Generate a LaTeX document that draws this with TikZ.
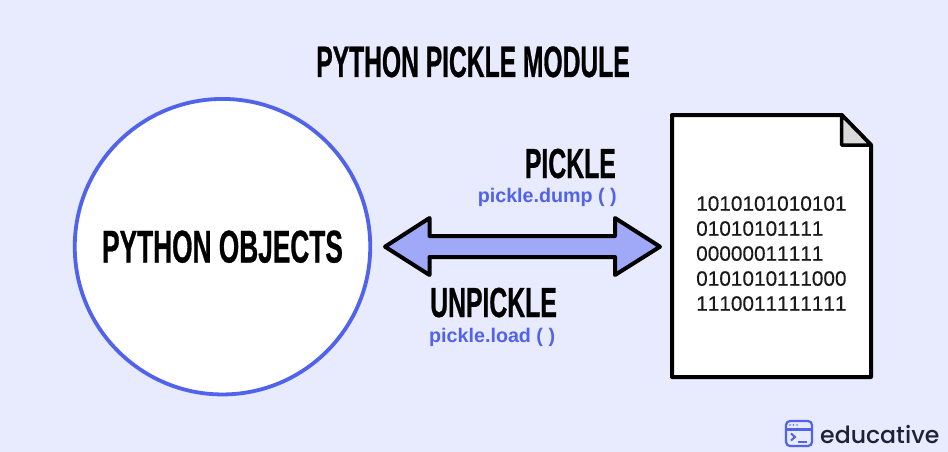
\documentclass[tikz,border=0pt]{standalone}
\usepackage{fontspec}
\setmainfont{Liberation Sans}
\newfontfamily\headfontA[FakeStretch=0.56,FakeBold=0.6,Kerning=Off]{Liberation Sans Bold}
\newfontfamily\headfontB[FakeStretch=0.571,FakeBold=0.6,Kerning=Off]{Liberation Sans Bold}
\newfontfamily\headfontC[FakeStretch=0.59,FakeBold=0.6,Kerning=Off]{Liberation Sans Bold}
\newfontfamily\bitsfont[Kerning=Off,FakeBold=0.25]{Liberation Sans}
\newfontfamily\logofont{Poppins Medium}
\definecolor{bgc}{HTML}{E8EAFD}
\definecolor{bluec}{HTML}{5063EA}
\definecolor{arrowc}{HTML}{9FA9F7}
\definecolor{foldc}{HTML}{D9D9D9}
\definecolor{inkc}{HTML}{1F2233}
\tikzset{
  head/.style={inner sep=0pt,text=black},
  code/.style={inner sep=0pt,text=bluec,font=\bfseries\fontsize{19.7}{19.7}\selectfont},
  bits/.style={inner sep=0pt,anchor=north west,align=left,text=black!90,font=\bitsfont\fontsize{20.8}{25}\selectfont},
  outline/.style={draw=black,line width=4pt,line join=round}
}
\begin{document}
\begin{tikzpicture}[x=1pt,y=-1pt]
\useasboundingbox (0,0) rectangle (948,452);
\fill[bgc] (0,0) rectangle (948,452);
% title
\node[head,anchor=base,font=\headfontA\fontsize{44}{44}\selectfont] (title) at (473,77) {PYTHON PICKLE MODULE};
% circle
\node[circle,draw=bluec,fill=white,line width=3.8pt,minimum size=295.5pt,inner sep=0pt,
  font=\headfontB\fontsize{46}{46}\selectfont] (objects) at (222.5,246.7) {PYTHON OBJECTS};
% double arrow
\draw[outline,fill=arrowc] (385,246.7) -- (429.5,218) -- (429.5,236) -- (615,236) -- (615,218)
  -- (660,246.7) -- (615,275) -- (615,257) -- (429.5,257) -- (429.5,275) -- cycle;
% labels
\node[head,anchor=base east,font=\headfontC\fontsize{42}{42}\selectfont] (pickle) at (616,178) {PICKLE};
\node[code,anchor=base east] (dump) at (617,202) {pickle.dump ( )};
\node[head,anchor=base west,font=\headfontC\fontsize{42}{42}\selectfont] (unpickle) at (430,317) {UNPICKLE};
\node[code,anchor=base west] (load) at (429,342) {pickle.load ( )};
% document
\draw[outline,fill=white] (672,115) -- (841.7,115) -- (871,145) -- (871,377) -- (672,377) -- cycle;
\draw[outline,fill=foldc,line width=3.5pt] (841.7,115) -- (871,145) -- (841.7,145) -- cycle;
\node[bits] (data) at (696,196) {1010101010101\\01010101111\\00000011111\\0101010111000\\1110011111111};
% logo
\draw[bluec,line width=2.2pt,rounded corners=4pt,fill=bgc] (786,421) rectangle (812,446);
\draw[bluec,line width=2.2pt] (786,429.5) -- (812,429.5);
\fill[bluec] (790,425) circle (0.9pt) (793.5,425) circle (0.9pt) (797,425) circle (0.9pt);
\draw[bluec,line width=2pt,line join=miter] (791,433.5) -- (795,437) -- (791,440.5);
\draw[bluec,line width=2pt] (798,441.5) -- (807,441.5);
\node[inner sep=0pt,anchor=base west,text=inkc,font=\logofont\fontsize{23.6}{23.6}\selectfont] (logo) at (820,443) {educative};
\end{tikzpicture}
\end{document}
